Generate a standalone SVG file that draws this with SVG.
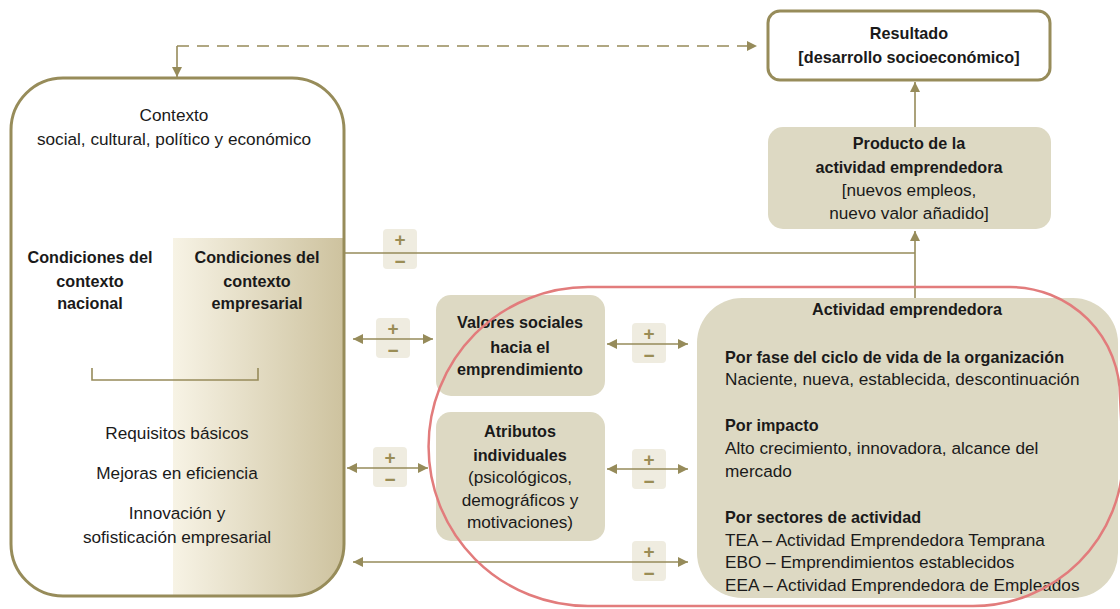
<svg xmlns="http://www.w3.org/2000/svg" width="1120" height="609" viewBox="0 0 1120 609">
<style>
text{font-family:"Liberation Sans",Arial,sans-serif;fill:#1a1a1a}
.r{font-size:17.2px}
.b{font-size:16.2px;font-weight:bold}
.c{text-anchor:middle}
.ln{stroke:#968b5a;stroke-width:1.6;fill:none}
.kh{fill:#ddd9c3}
.pm{fill:#efece0}
.pmt{font-size:19px;font-weight:bold;fill:#9a8d55;text-anchor:middle}
</style>
<defs>
<marker id="ah" viewBox="0 0 10 10" refX="10" refY="5" markerWidth="10" markerHeight="10" markerUnits="userSpaceOnUse" orient="auto-start-reverse">
<path d="M0,0 L10,5 L0,10 z" fill="#968b5a"/>
</marker>
<linearGradient id="g" x1="0" y1="0" x2="1" y2="0">
<stop offset="0" stop-color="#f7f3e5"/>
<stop offset="1" stop-color="#cdc29e"/>
</linearGradient>
<clipPath id="cl"><rect x="11" y="78" width="333" height="518" rx="52"/></clipPath>
</defs>

<g id="contexto">
<rect x="11" y="78" width="333" height="518" rx="52" fill="#fff"/>
<rect x="173" y="238" width="172" height="360" fill="url(#g)" clip-path="url(#cl)"/>
<rect x="11" y="78" width="333" height="518" rx="52" fill="none" stroke="#978c5a" stroke-width="3"/>
<text class="r c" x="174" y="121">Contexto</text>
<text class="r c" x="174" y="145">social, cultural, político y económico</text>
<text class="b c" x="90" y="263">Condiciones del</text>
<text class="b c" x="90" y="287">contexto</text>
<text class="b c" x="90" y="309">nacional</text>
<text class="b c" x="257" y="263">Condiciones del</text>
<text class="b c" x="257" y="287">contexto</text>
<text class="b c" x="257" y="309">empresarial</text>
<path class="ln" d="M92,368 V380 H258 V368"/>
<text class="r c" x="177" y="439">Requisitos básicos</text>
<text class="r c" x="177" y="479">Mejoras en eficiencia</text>
<text class="r c" x="177" y="519">Innovación y</text>
<text class="r c" x="177" y="543">sofisticación empresarial</text>
</g>

<g id="resultado">
<rect x="768" y="11" width="282" height="69" rx="12" fill="#fff" stroke="#978c5a" stroke-width="3"/>
<text class="b c" x="909" y="39">Resultado</text>
<text class="b c" x="909" y="63">[desarrollo socioeconómico]</text>
</g>

<g id="producto">
<rect class="kh" x="768" y="127" width="283" height="102" rx="15"/>
<text class="b c" x="909" y="149">Producto de la</text>
<text class="b c" x="909" y="173">actividad emprendedora</text>
<text class="r c" x="909" y="196">[nuevos empleos,</text>
<text class="r c" x="909" y="219">nuevo valor añadido]</text>
</g>

<g id="valores">
<rect class="kh" x="436" y="295" width="169" height="101" rx="15"/>
<text class="b c" x="520" y="328">Valores sociales</text>
<text class="b c" x="520" y="353">hacia el</text>
<text class="b c" x="520" y="375">emprendimiento</text>
</g>

<g id="atributos">
<rect class="kh" x="436" y="412" width="169" height="129" rx="15"/>
<text class="b c" x="520" y="437">Atributos</text>
<text class="b c" x="520" y="461">individuales</text>
<text class="r c" x="520" y="483">(psicológicos,</text>
<text class="r c" x="520" y="506">demográficos y</text>
<text class="r c" x="520" y="528">motivaciones)</text>
</g>

<g id="actividad">
<rect class="kh" x="697" y="298" width="421" height="300" rx="45"/>
<text class="b c" x="907" y="315">Actividad emprendedora</text>
<text class="b" x="725" y="363">Por fase del ciclo de vida de la organización</text>
<text class="r" x="725" y="385">Naciente, nueva, establecida, descontinuación</text>
<text class="b" x="725" y="431">Por impacto</text>
<text class="r" x="725" y="454">Alto crecimiento, innovadora, alcance del</text>
<text class="r" x="725" y="477">mercado</text>
<text class="b" x="725" y="523">Por sectores de actividad</text>
<text class="r" x="725" y="546">TEA – Actividad Emprendedora Temprana</text>
<text class="r" x="725" y="568">EBO – Emprendimientos establecidos</text>
<text class="r" x="725" y="591">EEA – Actividad Emprendedora de Empleados</text>
</g>

<g id="signos">
<rect class="pm" x="383" y="229" width="34" height="40" rx="4"/>
<text class="pmt" x="400" y="246">+</text><text class="pmt" x="400" y="268">−</text>
<rect class="pm" x="376" y="318" width="34" height="40" rx="4"/>
<text class="pmt" x="393" y="335">+</text><text class="pmt" x="393" y="357">−</text>
<rect class="pm" x="632" y="323" width="34" height="40" rx="4"/>
<text class="pmt" x="649" y="340">+</text><text class="pmt" x="649" y="362">−</text>
<rect class="pm" x="373" y="447" width="34" height="40" rx="4"/>
<text class="pmt" x="390" y="464">+</text><text class="pmt" x="390" y="486">−</text>
<rect class="pm" x="632" y="449" width="34" height="40" rx="4"/>
<text class="pmt" x="649" y="466">+</text><text class="pmt" x="649" y="488">−</text>
<rect class="pm" x="632" y="541" width="34" height="40" rx="4"/>
<text class="pmt" x="649" y="558">+</text><text class="pmt" x="649" y="580">−</text>
</g>

<g id="connectors">
<path class="ln" d="M177,46 H757" stroke-dasharray="12,8" marker-end="url(#ah)"/>
<path class="ln" d="M177,46 V77" marker-end="url(#ah)"/>
<path class="ln" d="M915,127 V82" marker-end="url(#ah)"/>
<path class="ln" d="M345,253 H915"/>
<path class="ln" d="M915,298 V231" marker-end="url(#ah)"/>
<path class="ln" d="M353,339 H433" marker-start="url(#ah)" marker-end="url(#ah)"/>
<path class="ln" d="M607,344 H688" marker-start="url(#ah)" marker-end="url(#ah)"/>
<path class="ln" d="M347,468 H428" marker-start="url(#ah)" marker-end="url(#ah)"/>
<path class="ln" d="M607,469 H688" marker-start="url(#ah)" marker-end="url(#ah)"/>
<path class="ln" d="M353,562 H688" marker-start="url(#ah)" marker-end="url(#ah)"/>
</g>

<g id="grupo-rojo">
<path d="M588,287 H1010 A110,110 0 0 1 1120,397 L1123,456 A150,150 0 0 1 973,606 H588 A159.5,159.5 0 0 1 588,287 Z" fill="none" stroke="#e27c7c" stroke-width="2.5"/>
</g>
</svg>
